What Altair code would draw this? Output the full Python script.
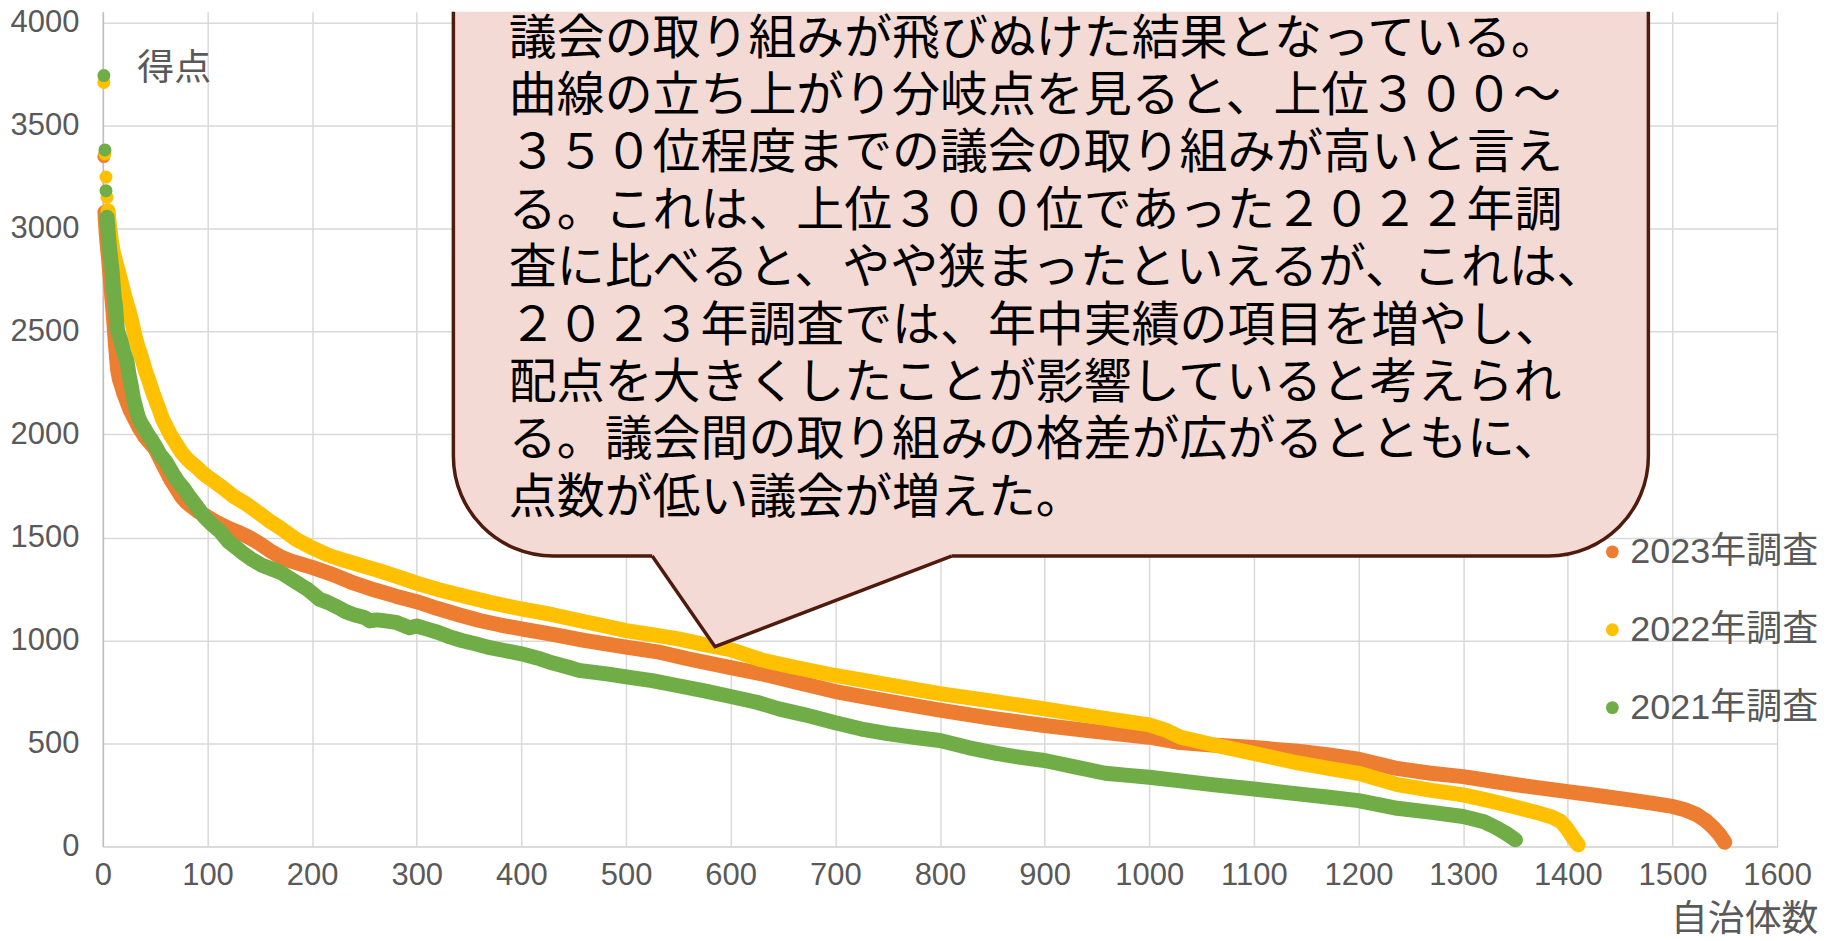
import altair as alt
import pandas as pd

# ---------------- data (rank, score) ----------------
series_names = ["2023年調査", "2022年調査", "2021年調査"]
series_colors = ["#ED7D31", "#FFC000", "#70AD47"]

survey_2023 = [
    (1, 3350), (2, 3080), (3, 2990), (4, 2930), (5, 2880), (6, 2820), (7, 2760), (8, 2700),
    (9, 2640), (10, 2580), (11, 2510), (12, 2440), (13, 2380), (14, 2320), (15, 2290), (16, 2265),
    (18, 2235), (20, 2200), (23, 2160), (26, 2120), (30, 2080), (35, 2030), (40, 1990), (45, 1960),
    (50, 1930), (55, 1880), (60, 1830), (65, 1780), (70, 1740), (75, 1700), (80, 1670), (90, 1630),
    (100, 1600), (110, 1570), (120, 1545), (130, 1525), (140, 1500), (150, 1470), (160, 1435),
    (170, 1405), (180, 1385), (190, 1370), (200, 1355), (220, 1320), (240, 1278), (260, 1245),
    (280, 1215), (300, 1188), (320, 1155), (340, 1125), (360, 1097), (380, 1075), (400, 1056),
    (430, 1030), (460, 1000), (500, 968), (530, 945), (560, 910), (600, 868), (630, 838),
    (661, 800), (700, 752), (750, 705), (800, 662), (850, 622), (900, 587), (950, 557),
    (1000, 530), (1027, 506), (1060, 492), (1100, 480), (1142, 462), (1170, 445), (1200, 423),
    (1235, 380), (1269, 355), (1300, 339), (1330, 315), (1364, 290), (1400, 266), (1430, 246),
    (1459, 226), (1480, 210), (1500, 194), (1512, 178), (1523, 155), (1532, 125), (1539, 92),
    (1545, 58), (1550, 20),
]

survey_2022 = [
    (1, 3710), (2, 3362), (3, 3250), (4, 3152), (5, 3087), (6, 3030), (7, 2990), (8, 2950),
    (9, 2915), (10, 2885), (12, 2845), (15, 2790), (18, 2731), (21, 2670), (25, 2602), (28, 2540),
    (31, 2473), (34, 2420), (37, 2375), (41, 2305), (44, 2262), (48, 2200), (53, 2133), (57, 2075),
    (60, 2045), (65, 1995), (70, 1955), (75, 1915), (80, 1885), (85, 1860), (90, 1840), (95, 1815),
    (100, 1795), (105, 1777), (115, 1740), (125, 1700), (137, 1663), (150, 1615), (160, 1578),
    (170, 1545), (185, 1490), (200, 1450), (215, 1415), (232, 1387), (250, 1360), (264, 1339),
    (280, 1312), (300, 1278), (320, 1248), (343, 1218), (370, 1185), (400, 1153), (430, 1125),
    (455, 1097), (480, 1070), (500, 1048), (525, 1028), (550, 1008), (575, 980), (600, 955),
    (630, 905), (661, 870), (700, 830), (750, 785), (800, 742), (850, 705), (900, 668),
    (950, 628), (1000, 590), (1015, 566), (1030, 530), (1060, 495), (1100, 452), (1142, 405),
    (1170, 380), (1200, 355), (1237, 300), (1270, 272), (1300, 250), (1325, 222), (1348, 194),
    (1370, 165), (1385, 142), (1393, 122), (1398, 95), (1402, 65), (1406, 35), (1410, 8),
]

survey_2021 = [
    (1, 3743), (2, 3382), (3, 3184), (4, 3055), (5, 2990), (6, 2930), (7, 2877), (8, 2830),
    (9, 2788), (10, 2715), (11, 2660), (12, 2630), (13, 2560), (14, 2510), (15, 2489), (17, 2460),
    (18, 2440), (20, 2400), (23, 2359), (25, 2290), (27, 2240), (29, 2181), (32, 2120), (34, 2084),
    (37, 2050), (39, 2036), (43, 2000), (47, 1971), (50, 1945), (55, 1900), (60, 1870), (67, 1809),
    (72, 1770), (77, 1740), (83, 1696), (90, 1650), (97, 1600), (105, 1560), (112, 1530),
    (120, 1480), (127, 1453), (135, 1420), (142, 1395), (152, 1365), (160, 1350), (170, 1330),
    (184, 1285), (195, 1250), (200, 1230), (207, 1200), (215, 1185), (225, 1160), (232, 1140),
    (240, 1125), (250, 1112), (255, 1095), (262, 1100), (270, 1095), (280, 1088), (293, 1062),
    (300, 1070), (310, 1055), (320, 1040), (330, 1020), (343, 1000), (355, 985), (370, 965),
    (385, 950), (400, 935), (415, 915), (430, 890), (445, 870), (455, 855), (470, 845),
    (485, 835), (500, 823), (525, 805), (550, 780), (575, 755), (600, 728), (625, 700),
    (646, 668), (670, 640), (700, 600), (725, 570), (750, 548), (775, 530), (800, 514),
    (827, 480), (854, 452), (877, 432), (900, 417), (930, 385), (958, 355), (980, 345),
    (1000, 336), (1030, 318), (1060, 300), (1100, 279), (1142, 255), (1170, 240), (1200, 222),
    (1237, 185), (1270, 165), (1300, 145), (1320, 120), (1332, 90), (1342, 60), (1350, 32),
]

# first rank from which the dots touch each other (drawn as a continuous band)
band_start = [2, 5, 4]

x_ticks = list(range(0, 1700, 100))
y_ticks = list(range(0, 4500, 500))

callout_lines = [
    "議会の取り組みが飛びぬけた結果となっている。",
    "曲線の立ち上がり分岐点を見ると、上位３００～",
    "３５０位程度までの議会の取り組みが高いと言え",
    "る。これは、上位３００位であった２０２２年調",
    "査に比べると、やや狭まったといえるが、これは、",
    "２０２３年調査では、年中実績の項目を増やし、",
    "配点を大きくしたことが影響していると考えられ",
    "る。議会間の取り組みの格差が広がるとともに、",
    "点数が低い議会が増えた。",
]
# callout geometry in data units (rank, score)
callout_box = {"left": 335, "right": 1477, "bottom": 1410, "top": 4600}
callout_tail = {"rank": [525, 585, 811], "score": [1410, 970, 1410]}
callout_text_anchor = (388, 3850)

# ---------------- styles ----------------
TICK_FONT = "Liberation Sans, Arial, sans-serif"
LEGEND_FONT = "Liberation Sans, Noto Sans CJK JP, sans-serif"
CJK_FONT = "Noto Sans CJK JP"
GREY = "#595959"
GRID = "#D9D9D9"
BOX_FILL = "#F4DAD4"
BOX_STROKE = "#4E1B0D"

x_enc = alt.X(
    "rank:Q",
    scale=alt.Scale(domain=[0, 1600], nice=False, zero=False),
    axis=alt.Axis(
        values=x_ticks, format="d", grid=True, gridColor=GRID, gridWidth=1.5,
        domainColor=GRID, domainWidth=1.5, ticks=False,
        labelFont=TICK_FONT, labelFontSize=31, labelColor=GREY, labelPadding=14,
        labelFlush=False, labelOverlap=False,
        title="自治体数", titleFont=CJK_FONT, titleFontSize=37, titleColor=GREY,
        titleFontWeight="normal", titleX=1718, titleY=73, titleAlign="right",
        titleBaseline="middle", titleAngle=0,
    ),
)
y_enc = alt.Y(
    "score:Q",
    scale=alt.Scale(domain=[0, 4053], nice=False, zero=False),
    axis=alt.Axis(
        values=y_ticks, format="d", grid=True, gridColor=GRID, gridWidth=1.5,
        domainColor="#BFBFBF", domainWidth=1.5, ticks=False,
        labelFont=TICK_FONT, labelFontSize=31, labelColor=GREY, labelPadding=24,
        labelOverlap=False,
        title="得点", titleFont=CJK_FONT, titleFontSize=37, titleColor=GREY,
        titleFontWeight="normal", titleX=34, titleY=57, titleAlign="left",
        titleBaseline="middle", titleAngle=0,
    ),
)

color_enc = alt.Color(
    "series:N",
    scale=alt.Scale(domain=series_names, range=series_colors),
    legend=alt.Legend(
        orient="none", legendX=1494, legendY=523, title=None,
        symbolType="circle", symbolSize=165, symbolStrokeWidth=0,
        labelFont=LEGEND_FONT, labelFontSize=36, labelColor=GREY,
        labelOffset=0, rowPadding=42, labelLimit=400, padding=0,
    ),
)

layers = []
for name, color, data, start in zip(
    series_names, series_colors, [survey_2023, survey_2022, survey_2021], band_start
):
    df = pd.DataFrame(data, columns=["rank", "score"])
    df["series"] = name
    band = df[df["rank"] >= start]
    layers.append(
        alt.Chart(band).mark_line(
            color=color, strokeWidth=15, strokeCap="round", strokeJoin="round"
        ).encode(x=x_enc, y=y_enc)
    )
    layers.append(
        alt.Chart(df).mark_circle(size=170, opacity=1).encode(
            x=x_enc, y=y_enc, color=color_enc
        )
    )

# ---------------- callout ----------------
box_df = pd.DataFrame({
    "rank": [callout_box["left"]], "rank2": [callout_box["right"]],
    "score": [callout_box["bottom"]], "score2": [callout_box["top"]],
})
box = alt.Chart(box_df).mark_rect(
    fill=BOX_FILL, stroke=BOX_STROKE, strokeWidth=3.5, cornerRadius=100, clip=True
).encode(x=x_enc, x2="rank2:Q", y=y_enc, y2="score2:Q")

tail_df = pd.DataFrame(callout_tail)
tail_df["score2"] = callout_tail["score"][0] + 14
tail_fill = alt.Chart(tail_df).mark_area(color=BOX_FILL, opacity=1).encode(
    x=x_enc, y=y_enc, y2="score2:Q"
)
tail_edge = alt.Chart(pd.DataFrame(callout_tail)).mark_line(
    color=BOX_STROKE, strokeWidth=3.5, strokeJoin="miter", strokeCap="butt"
).encode(x=x_enc, y=y_enc)

text_df = pd.DataFrame({
    "rank": [callout_text_anchor[0]], "score": [callout_text_anchor[1]],
    "label": ["\n".join(callout_lines)],
})
text = alt.Chart(text_df).mark_text(
    align="left", baseline="alphabetic", lineBreak="\n", lineHeight=57.5,
    font=CJK_FONT, fontSize=48, color="#000000",
).encode(x=x_enc, y=y_enc, text="label:N")

chart = alt.layer(*layers, box, tail_fill, tail_edge, text).properties(
    width=1677, height=836,
    autosize=alt.AutoSizeParams(type="none"),
    padding={"left": 95, "top": 3, "right": 50, "bottom": 95},
    background="white",
).configure_view(strokeWidth=0)

chart.save("out.html", embed_options={"renderer": "svg", "actions": False})
